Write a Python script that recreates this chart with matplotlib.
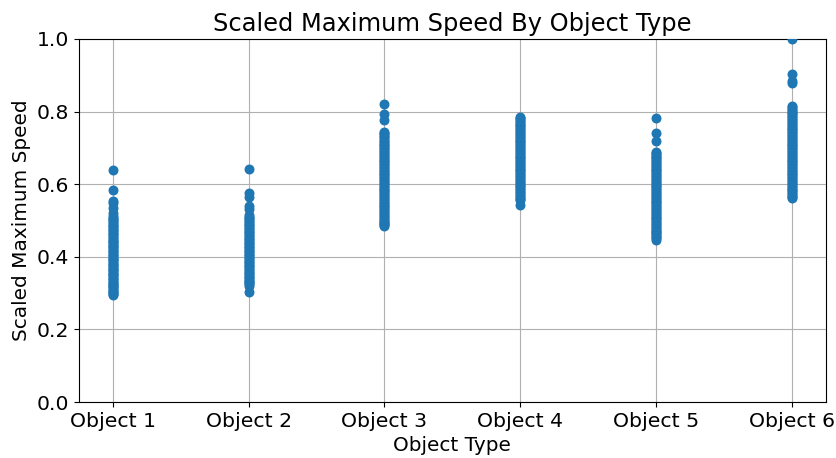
import matplotlib.pyplot as plt

plt.rcParams['font.size'] = 14.7

object_types = ["Object 1", "Object 2", "Object 3", "Object 4", "Object 5", "Object 6"]

speed_obj1 = [0.640, 0.583, 0.553, 0.548, 0.535, 0.521, 0.512, 0.508, 0.505, 0.501,
              0.497, 0.493, 0.489, 0.485, 0.481, 0.477, 0.474, 0.470, 0.466, 0.462,
              0.459, 0.455, 0.451, 0.447, 0.444, 0.440, 0.437, 0.433, 0.430, 0.426,
              0.423, 0.419, 0.416, 0.412, 0.409, 0.405, 0.402, 0.398, 0.395, 0.391,
              0.388, 0.384, 0.381, 0.377, 0.374, 0.370, 0.367, 0.363, 0.360, 0.356,
              0.353, 0.349, 0.346, 0.342, 0.339, 0.335, 0.332, 0.329, 0.326, 0.322,
              0.319, 0.316, 0.313, 0.310, 0.307, 0.304, 0.301, 0.298, 0.296]
speed_obj2 = [0.642, 0.576, 0.565, 0.541, 0.532, 0.514, 0.510, 0.507, 0.503, 0.499,
              0.495, 0.491, 0.488, 0.484, 0.480, 0.476, 0.472, 0.468, 0.465, 0.461,
              0.457, 0.453, 0.449, 0.446, 0.442, 0.438, 0.434, 0.431, 0.427, 0.423,
              0.419, 0.416, 0.412, 0.408, 0.404, 0.401, 0.397, 0.393, 0.389, 0.386,
              0.382, 0.378, 0.374, 0.371, 0.367, 0.363, 0.359, 0.356, 0.352, 0.348,
              0.344, 0.341, 0.337, 0.334, 0.330, 0.327, 0.324, 0.321, 0.302]
speed_obj3 = [0.822, 0.793, 0.776, 0.745, 0.741, 0.738, 0.733, 0.729, 0.724, 0.720,
              0.716, 0.712, 0.708, 0.704, 0.700, 0.696, 0.692, 0.688, 0.684, 0.680,
              0.676, 0.672, 0.668, 0.664, 0.660, 0.656, 0.652, 0.648, 0.644, 0.640,
              0.636, 0.632, 0.628, 0.624, 0.620, 0.616, 0.612, 0.608, 0.604, 0.600,
              0.596, 0.592, 0.588, 0.584, 0.580, 0.576, 0.572, 0.568, 0.564, 0.560,
              0.556, 0.552, 0.548, 0.544, 0.540, 0.536, 0.532, 0.528, 0.524, 0.520,
              0.516, 0.512, 0.508, 0.504, 0.500, 0.497, 0.493, 0.490, 0.487, 0.484]
speed_obj4 = [0.785, 0.782, 0.779, 0.775, 0.771, 0.767, 0.763, 0.759, 0.755, 0.751,
              0.747, 0.743, 0.739, 0.735, 0.731, 0.727, 0.723, 0.719, 0.715, 0.711,
              0.707, 0.703, 0.699, 0.695, 0.691, 0.687, 0.683, 0.679, 0.675, 0.671,
              0.667, 0.663, 0.659, 0.655, 0.651, 0.647, 0.643, 0.639, 0.635, 0.631,
              0.627, 0.623, 0.619, 0.615, 0.611, 0.607, 0.603, 0.599, 0.595, 0.591,
              0.587, 0.583, 0.579, 0.575, 0.571, 0.567, 0.563, 0.559, 0.556, 0.542]
speed_obj5 = [0.782, 0.742, 0.720, 0.690, 0.686, 0.683, 0.679, 0.675, 0.671, 0.667,
              0.663, 0.659, 0.655, 0.651, 0.647, 0.643, 0.639, 0.635, 0.631, 0.627,
              0.623, 0.619, 0.615, 0.611, 0.607, 0.603, 0.599, 0.595, 0.591, 0.587,
              0.583, 0.579, 0.575, 0.571, 0.567, 0.563, 0.559, 0.555, 0.551, 0.547,
              0.543, 0.539, 0.535, 0.531, 0.527, 0.523, 0.519, 0.515, 0.511, 0.507,
              0.503, 0.499, 0.495, 0.491, 0.487, 0.483, 0.479, 0.475, 0.471, 0.468,
              0.465, 0.462, 0.458, 0.455, 0.451, 0.447]
speed_obj6 = [1.000, 0.903, 0.885, 0.878, 0.815, 0.812, 0.808, 0.804, 0.800, 0.796,
              0.792, 0.788, 0.784, 0.780, 0.776, 0.772, 0.768, 0.764, 0.760, 0.756,
              0.752, 0.748, 0.744, 0.740, 0.736, 0.732, 0.728, 0.724, 0.720, 0.716,
              0.712, 0.708, 0.704, 0.700, 0.696, 0.692, 0.688, 0.684, 0.680, 0.676,
              0.672, 0.668, 0.664, 0.660, 0.656, 0.652, 0.648, 0.644, 0.640, 0.636,
              0.632, 0.628, 0.624, 0.620, 0.616, 0.612, 0.608, 0.604, 0.600, 0.596,
              0.592, 0.588, 0.584, 0.580, 0.576, 0.572, 0.568, 0.564, 0.561]

speeds = [speed_obj1, speed_obj2, speed_obj3, speed_obj4, speed_obj5, speed_obj6]

fig = plt.figure(figsize=(8.37, 4.58), dpi=100)
ax = fig.add_axes([0.094, 0.122, 0.893, 0.793])

for name, vals in zip(object_types, speeds):
    ax.scatter([name] * len(vals), vals, color='#1f77b4', s=38, zorder=3)

ax.set_ylim(0, 1.0)
ax.grid(True, color='#b0b0b0', linewidth=0.8)
ax.set_axisbelow(True)
ax.set_title("Scaled Maximum Speed By Object Type", fontsize=17.4)
ax.set_xlabel("Object Type", fontsize=14.4)
ax.set_ylabel("Scaled Maximum Speed", fontsize=14.4)

fig.savefig("out.png", dpi=100)
